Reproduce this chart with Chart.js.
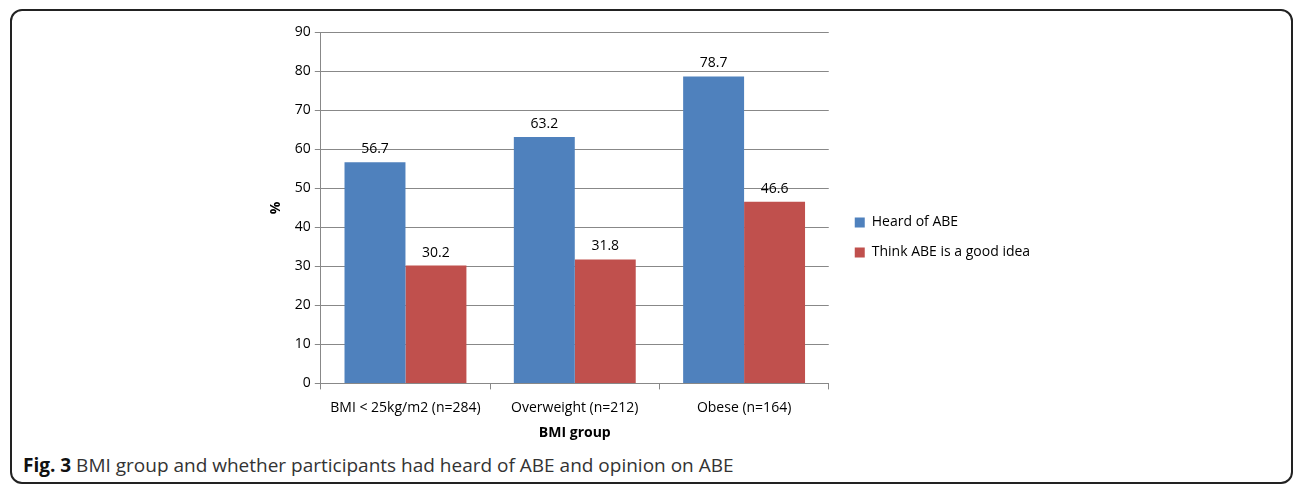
<!DOCTYPE html>
<html>
<head>
<meta charset="utf-8">
<script src="https://cdn.jsdelivr.net/npm/chart.js@4.4.0/dist/chart.umd.min.js"></script>
<style>
  body { margin: 0; background: #fff; width: 1293px; height: 484px; overflow: hidden; position: relative; }
  .frame { position: absolute; left: 10px; top: 9px; width: 1279px; height: 471px; border: 2px solid #222; border-radius: 12px; }
  .chartbox { position: absolute; left: 262px; top: 20px; width: 779px; height: 425px; }
  .caption { position: absolute; left: 23px; top: 452px; font-family: "Open Sans", sans-serif; font-size: 19px; color: #333; }
  .caption b { color: #111; }
</style>
</head>
<body>
<div class="frame"></div>
<div class="chartbox"><canvas id="bmiChart"></canvas></div>
<div class="caption"><b>Fig. 3</b> BMI group and whether participants had heard of ABE and opinion on ABE</div>
<script>
const groups = ['BMI < 25kg/m2 (n=284)', 'Overweight (n=212)', 'Obese (n=164)'];
const heardOfABE = [56.7, 63.2, 78.7];
const thinkGoodIdea = [30.2, 31.8, 46.6];

// value labels above each bar
const barLabels = {
    id: 'barLabels',
    afterDatasetsDraw(chart) {
        const ctx = chart.ctx;
        ctx.save();
        ctx.font = '14px "Open Sans", sans-serif';
        ctx.fillStyle = '#000';
        ctx.textAlign = 'center';
        ctx.textBaseline = 'bottom';
        chart.data.datasets.forEach((ds, i) => {
            chart.getDatasetMeta(i).data.forEach((bar, j) => {
                ctx.fillText(ds.data[j].toFixed(1), bar.x, bar.y - 6);
            });
        });
        ctx.restore();
    }
};

const ctx = document.getElementById('bmiChart').getContext('2d');
const chart = new Chart(ctx, {
    type: 'bar',
    data: {
        labels: groups,
        datasets: [
            {
                label: 'Heard of ABE',
                data: heardOfABE,
                backgroundColor: '#4F81BD',
                categoryPercentage: 0.72,
                barPercentage: 1.0,
            },
            {
                label: 'Think ABE is a good idea',
                data: thinkGoodIdea,
                backgroundColor: '#C0504D',
                categoryPercentage: 0.72,
                barPercentage: 1.0,
            },
        ],
    },
    options: {
        responsive: true,
        maintainAspectRatio: false,
        animation: false,
        layout: { padding: { top: 10, right: 10 } },
        plugins: {
            legend: {
                position: 'right',
                labels: {
                    boxWidth: 10,
                    boxHeight: 10,
                    padding: 16,
                    color: '#000',
                    font: { family: '"Open Sans", sans-serif', size: 14 },
                },
            },
            tooltip: { enabled: false },
        },
        scales: {
            x: {
                grid: { drawOnChartArea: false, tickLength: 6, color: '#888' },
                border: { color: '#888' },
                ticks: { color: '#000', font: { family: '"Open Sans", sans-serif', size: 14 }, padding: 10 },
                title: { display: true, text: 'BMI group', color: '#000', font: { family: '"Open Sans", sans-serif', size: 14, weight: 'bold' }, padding: { top: -2, bottom: 4 } },
            },
            y: {
                min: 0,
                max: 90,
                ticks: { stepSize: 10, color: '#000', font: { family: '"Open Sans", sans-serif', size: 14 }, padding: 4 },
                grid: { color: '#888', tickLength: 6 },
                border: { color: '#888' },
                title: { display: true, text: '%', color: '#000', font: { family: '"Open Sans", sans-serif', size: 14, weight: 'bold' }, padding: 6 },
            },
            // hidden spacer between plot and legend
            gap: {
                display: false,
                position: 'right',
                min: 0,
                max: 1,
                afterFit(scale) { scale.width = 10; },
            },
        },
    },
    plugins: [barLabels],
});
</script>
</body>
</html>
